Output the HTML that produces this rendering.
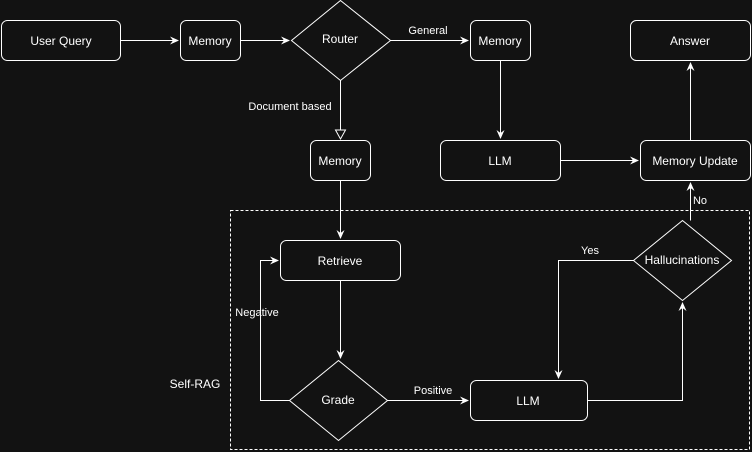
<!DOCTYPE html>
<html><head><style>
body{margin:0;background:#121212;}
svg{display:block;font-family:"Liberation Sans",Helvetica,sans-serif;}
</style></head><body>
<svg width="752" height="452" viewBox="0 0 752 452">
<defs>
<marker id="a" markerWidth="10" markerHeight="10" refX="8" refY="5" orient="auto" markerUnits="userSpaceOnUse"><path d="M0,1 L9,5 L0,9 L3,5 Z" fill="#fff"/></marker>
<marker id="o" markerWidth="12" markerHeight="12" refX="10" refY="6" orient="auto" markerUnits="userSpaceOnUse"><path d="M1,1 L10,6 L1,11 Z" fill="#121212" stroke="#fff" stroke-width="1"/></marker>
</defs>
<rect width="752" height="452" fill="#121212"/>
<rect x="230.5" y="210.5" width="519" height="239" fill="none" stroke="#fff" stroke-dasharray="3,2"/>
<g fill="none" stroke="#fff" stroke-width="1">
<rect x="1.5" y="20.5" width="119" height="40" rx="6"/>
<rect x="180.5" y="20.5" width="60" height="40" rx="6"/>
<polygon points="340.5,0.5 390.5,40.5 340.5,80.5 291.5,40.5"/>
<rect x="470.5" y="20.5" width="60" height="40" rx="6"/>
<rect x="630.5" y="20.5" width="120" height="40" rx="6"/>
<rect x="310.5" y="140.5" width="60" height="40" rx="6"/>
<rect x="440.5" y="140.5" width="120" height="40" rx="6"/>
<rect x="640.5" y="140.5" width="110" height="40" rx="6"/>
<rect x="280.5" y="240.5" width="120" height="40" rx="6"/>
<polygon points="338.5,360.5 387.5,400.5 338.5,440.5 289.5,400.5"/>
<rect x="470.5" y="380.5" width="117" height="40" rx="6"/>
<polygon points="682.5,220.5 731.5,260.5 682.5,300.5 633.5,260.5"/>
<path d="M120.5,40.5 H178" marker-end="url(#a)"/>
<path d="M240.5,40.5 H289" marker-end="url(#a)"/>
<path d="M390.5,40.5 H468" marker-end="url(#a)"/>
<path d="M500.5,60.5 V138" marker-end="url(#a)"/>
<path d="M560.5,160.5 H638" marker-end="url(#a)"/>
<path d="M690.5,140.5 V63" marker-end="url(#a)"/>
<path d="M690.5,220.5 V183" marker-end="url(#a)"/>
<path d="M340.5,80.5 V139" marker-end="url(#o)"/>
<path d="M340.5,180.5 V238" marker-end="url(#a)"/>
<path d="M340.5,280.5 V358" marker-end="url(#a)"/>
<path d="M289.5,400.5 H260.5 V260.5 H278" marker-end="url(#a)"/>
<path d="M387.5,400.5 H468" marker-end="url(#a)"/>
<path d="M633.5,260.5 H558.5 V378" marker-end="url(#a)"/>
<path d="M587.5,400.5 H682.5 V303" marker-end="url(#a)"/>
</g>
<g fill="#fff" font-size="12" text-anchor="middle">
<text x="61" y="45">User Query</text>
<text x="210" y="45">Memory</text>
<text x="340" y="43">Router</text>
<text x="500" y="45">Memory</text>
<text x="690" y="45">Answer</text>
<text x="340" y="165">Memory</text>
<text x="500" y="165">LLM</text>
<text x="695" y="165">Memory Update</text>
<text x="340" y="265">Retrieve</text>
<text x="338" y="404">Grade</text>
<text x="528" y="405">LLM</text>
<text x="682" y="264">Hallucinations</text>
<text x="195" y="388">Self-RAG</text>
</g>
<g fill="#fff" font-size="11" text-anchor="middle">
<text x="428" y="34">General</text>
<text x="290" y="110">Document based</text>
<text x="700" y="204">No</text>
<text x="590" y="254">Yes</text>
<text x="257" y="316">Negative</text>
<text x="433" y="394">Positive</text>
</g>
</svg>
</body></html>
